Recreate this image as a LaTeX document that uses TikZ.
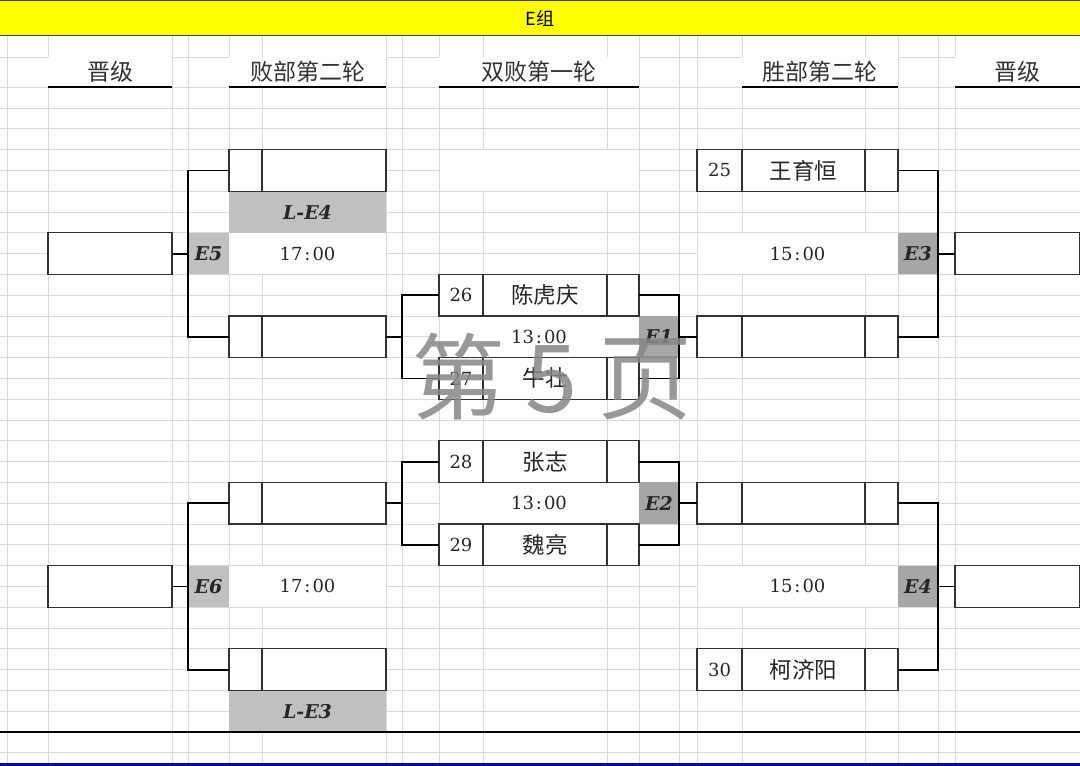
\documentclass[tikz,border=0pt]{standalone}
\usepackage{fontspec}
\newfontfamily\cjk{Noto Sans CJK SC}
\newfontfamily\digf{DejaVu Serif}
\definecolor{gridc}{RGB}{218,218,218}
\definecolor{boxc}{RGB}{50,50,50}
\definecolor{lgray}{RGB}{192,192,192}
\definecolor{dgray}{RGB}{166,166,166}
\definecolor{barY}{RGB}{255,255,0}
\definecolor{navyc}{RGB}{10,10,150}
\definecolor{wmc}{RGB}{135,135,135}
\begin{document}
\begin{tikzpicture}[x=1pt,y=-1pt,
  gridline/.style={draw=gridc,line width=0.8pt},
  cell/.style={draw=boxc,line width=1.1pt,fill=white,inner sep=0pt,outer sep=0pt,minimum height=41.6pt},
  numcell/.style={cell,text=black!85,font={\digf\fontsize{18}{22}\selectfont}},
  namecell/.style={cell,text=black!85,font={\cjk\fontsize{22.5}{26}\selectfont}},
  plain/.style={fill=white,inner sep=0pt,outer sep=0pt,minimum height=41.6pt,text=black!85,font={\digf\fontsize{18}{22}\selectfont}},
  tagL/.style={fill=lgray,inner sep=0pt,outer sep=0pt,minimum height=41.6pt,text=black!85,font={\digf\bfseries\itshape\fontsize{19}{22}\selectfont}},
  tagD/.style={fill=dgray,inner sep=0pt,outer sep=0pt,minimum height=41.6pt,text=black!85,font={\digf\bfseries\itshape\fontsize{19}{22}\selectfont}},
  hdr/.style={fill=white,inner sep=0pt,outer sep=0pt,minimum height=30pt,text=black!80,font={\cjk\fontsize{23}{26}\selectfont}},
  hline/.style={black,line width=2pt},
  br/.style={black,line width=1.8pt},
  wm/.style={text=wmc,opacity=0.85,inner sep=0pt,font={\cjk\fontsize{94}{100}\selectfont}}
]
\useasboundingbox (0,0) rectangle (1080,766);
\fill[white] (0,0) rectangle (1080,766);
% grid
\foreach \x in {7,48,172,188,229,262,386,402,439,483,607,639,679,697,742,865,898,938,955}
  \draw[gridline] (\x,36) -- (\x,766);
\foreach \y in {57,87}
  \draw[gridline] (0,\y) -- (1080,\y);
\foreach \k in {0,...,31}
  \draw[gridline] (0,108+20.8*\k) -- (1080,108+20.8*\k);
% merged white area in centre column
\fill[white] (439.6,150.2) rectangle (638.4,190.6);
% title bar
\fill[barY] (0,0) rectangle (1080,36);
\draw[black!75,line width=1.2pt] (0,0.6) -- (1080,0.6);
\draw[black!75,line width=1.2pt] (0,35.4) -- (1080,35.4);
\node[inner sep=0pt,font={\cjk\fontsize{18}{20}\selectfont}] (title) at (540,18) {E组};
% headers
\node[hdr,minimum width=124pt] (h1) at (110,72) {晋级};
\node[hdr,minimum width=157pt] (h2) at (307.5,72) {败部第二轮};
\node[hdr,minimum width=200pt] (h3) at (539,72) {双败第一轮};
\node[hdr,minimum width=156pt] (h4) at (820,72) {胜部第二轮};
\node[hdr,minimum width=125pt] (h5) at (1017.5,72) {晋级};
\foreach \h in {h1,h2,h3,h4,h5}
  \draw[hline] (\h.south west) -- (\h.south east);
% merged time cells and tags
\node[tagL,minimum width=157pt] (LE4) at (307.5,212) {L-E4};
\node[tagL,minimum width=157pt] (LE3) at (307.5,711.2) {L-E3};
\node[tagL,minimum width=41pt] (E5) at (208.5,253.6) {E5};
\node[tagL,minimum width=41pt] (E6) at (208.5,586.4) {E6};
\node[tagD,minimum width=40pt] (E1) at (659,336.8) {E1};
\node[tagD,minimum width=40pt] (E2) at (659,503.2) {E2};
\node[tagD,minimum width=40pt] (E3) at (918,253.6) {E3};
\node[tagD,minimum width=40pt] (E4) at (918,586.4) {E4};
\node[plain,minimum width=157pt] (t1) at (307.5,253.6) {17\hspace{2pt}:\hspace{2pt}00};
\node[plain,minimum width=157pt] (t2) at (307.5,586.4) {17\hspace{2pt}:\hspace{2pt}00};
\node[plain,minimum width=199pt] (t3) at (539,336.8) {13\hspace{2pt}:\hspace{2pt}00};
\node[plain,minimum width=199pt] (t4) at (539,503.2) {13\hspace{2pt}:\hspace{2pt}00};
\node[plain,minimum width=200pt] (t5) at (797.5,253.6) {15\hspace{2pt}:\hspace{2pt}00};
\node[plain,minimum width=200pt] (t6) at (797.5,586.4) {15\hspace{2pt}:\hspace{2pt}00};
% bottom rule
\draw[black,line width=2pt] (0,732) -- (1080,732);
\fill[navyc] (0,763) rectangle (1080,766);
% junction points of the bracket connectors
\coordinate (j1) at (402,336.8);
\coordinate (j2) at (402,503.2);
% left promotion boxes
\node[cell,minimum width=124pt] (Q1) at (110,253.6) {};
\node[cell,minimum width=124pt] (Q2) at (110,586.4) {};
% right promotion boxes
\node[cell,minimum width=125pt] (Q3) at (1017.5,253.6) {};
\node[cell,minimum width=125pt] (Q4) at (1017.5,586.4) {};
% losers round 2 boxes
\node[numcell,minimum width=33pt] (An) at (245.5,170.4) {};
\node[namecell,minimum width=124pt] (Ap) at (324,170.4) {};
\node[numcell,minimum width=33pt] (Bn) at (245.5,336.8) {};
\node[namecell,minimum width=124pt] (Bp) at (324,336.8) {};
\node[numcell,minimum width=33pt] (Cn) at (245.5,503.2) {};
\node[namecell,minimum width=124pt] (Cp) at (324,503.2) {};
\node[numcell,minimum width=33pt] (Dn) at (245.5,669.6) {};
\node[namecell,minimum width=124pt] (Dp) at (324,669.6) {};
% double-loss round 1 boxes
\node[numcell,minimum width=44pt] (n26) at (461,295.2) {26};
\node[namecell,minimum width=124pt] (p26) at (545,295.2) {陈虎庆};
\node[numcell,minimum width=32pt] (s26) at (623,295.2) {};
\node[numcell,minimum width=44pt] (n27) at (461,378.4) {27};
\node[namecell,minimum width=124pt] (p27) at (545,378.4) {牛壮};
\node[numcell,minimum width=32pt] (s27) at (623,378.4) {};
\node[numcell,minimum width=44pt] (n28) at (461,461.6) {28};
\node[namecell,minimum width=124pt] (p28) at (545,461.6) {张志};
\node[numcell,minimum width=32pt] (s28) at (623,461.6) {};
\node[numcell,minimum width=44pt] (n29) at (461,544.8) {29};
\node[namecell,minimum width=124pt] (p29) at (545,544.8) {魏亮};
\node[numcell,minimum width=32pt] (s29) at (623,544.8) {};
% winners round 2 boxes
\node[numcell,minimum width=45pt] (n25) at (719.5,170.4) {25};
\node[namecell,minimum width=123pt] (p25) at (803.5,170.4) {王育恒};
\node[numcell,minimum width=33pt] (s25) at (881.5,170.4) {};
\node[numcell,minimum width=45pt] (wan) at (719.5,336.8) {};
\node[namecell,minimum width=123pt] (wap) at (803.5,336.8) {};
\node[numcell,minimum width=33pt] (was) at (881.5,336.8) {};
\node[numcell,minimum width=45pt] (wbn) at (719.5,503.2) {};
\node[namecell,minimum width=123pt] (wbp) at (803.5,503.2) {};
\node[numcell,minimum width=33pt] (wbs) at (881.5,503.2) {};
\node[numcell,minimum width=45pt] (n30) at (719.5,669.6) {30};
\node[namecell,minimum width=123pt] (p30) at (803.5,669.6) {柯济阳};
\node[numcell,minimum width=33pt] (s30) at (881.5,669.6) {};
% connectors
\draw[br] (An.west) -| (E5.west) |- (Bn.west);
\draw[br] (E5.west) -- (Q1.east);
\draw[br] (Cn.west) -| (E6.west) |- (Dn.west);
\draw[br] (E6.west) -- (Q2.east);
\draw[br] (Bp.east) -- (j1);
\draw[br] (n26.west) -| (j1) |- (n27.west);
\draw[br] (Cp.east) -- (j2);
\draw[br] (n28.west) -| (j2) |- (n29.west);
\draw[br] (s26.east) -| (E1.east) |- (s27.east);
\draw[br] (E1.east) -- (wan.west);
\draw[br] (s28.east) -| (E2.east) |- (s29.east);
\draw[br] (E2.east) -- (wbn.west);
\draw[br] (s25.east) -| (E3.east) |- (was.east);
\draw[br] (E3.east) -- (Q3.west);
\draw[br] (wbs.east) -| (E4.east) |- (s30.east);
\draw[br] (E4.east) -- (Q4.west);
% watermark
\node[wm] (mark) at (552,377) {第\hspace{20pt}5\hspace{20pt}页};
\end{tikzpicture}
\end{document}
